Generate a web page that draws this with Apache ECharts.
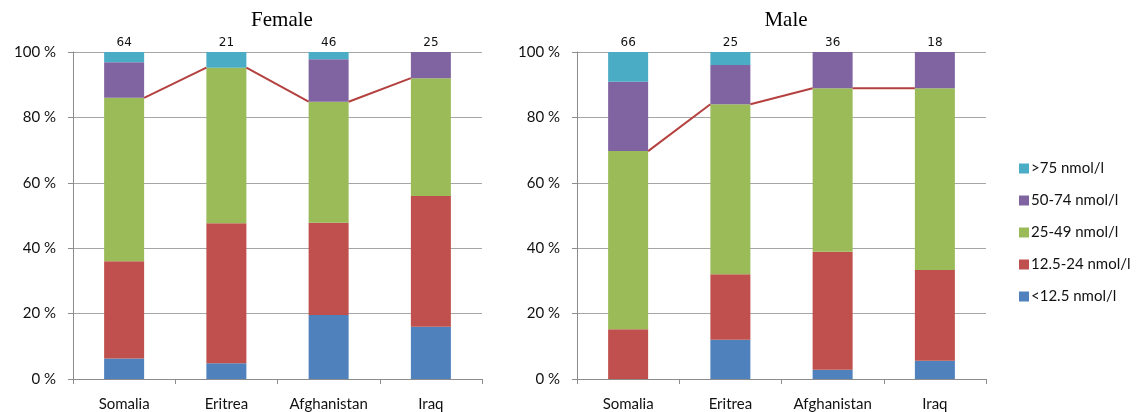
<!DOCTYPE html>
<html>
<head>
<meta charset="utf-8">
<script src="https://cdn.jsdelivr.net/npm/echarts@6/dist/echarts.min.js"></script>
<style>
  html, body { margin: 0; padding: 0; background: #fff; }
  #chart { width: 1141px; height: 412px; }
</style>
</head>
<body>
<div id="chart"></div>
<script>
// categories and sample sizes
const countries = ["Somalia", "Eritrea", "Afghanistan", "Iraq"];
const femaleN = [64, 21, 46, 25];
const maleN = [66, 25, 36, 18];

// percentages per vitamin D group
const fLt12 = [6.3, 4.8, 19.6, 16];
const f12to24 = [29.7, 42.8, 28.2, 40];
const f25to49 = [50, 47.6, 37.0, 36];
const f50to74 = [10.9, 0, 13.0, 8];
const fGt75 = [3.1, 4.8, 2.2, 0];

const mLt12 = [0, 12, 2.8, 5.6];
const m12to24 = [15.2, 20, 36.1, 27.7];
const m25to49 = [54.5, 52, 50.0, 55.6];
const m50to74 = [21.2, 12, 11.1, 11.1];
const mGt75 = [9.1, 4, 0, 0];

const groups = [">75 nmol/l", "50-74 nmol/l", "25-49 nmol/l", "12.5-24 nmol/l", "<12.5 nmol/l"];
const colors = {
  "<12.5 nmol/l": "#4F81BD",
  "12.5-24 nmol/l": "#C0504D",
  "25-49 nmol/l": "#9BBB59",
  "50-74 nmol/l": "#8064A2",
  ">75 nmol/l": "#4BACC6"
};
const lineColor = "#B4413F";
const BAR_W = 40;
const FONT = "Lato, 'Open Sans', sans-serif";

const chart = echarts.init(document.getElementById("chart"));

// stack order bottom -> top
function stackSeries(idx, arrs) {
  const names = ["<12.5 nmol/l", "12.5-24 nmol/l", "25-49 nmol/l", "50-74 nmol/l", ">75 nmol/l"];
  return names.map((n, k) => ({
    name: n,
    type: "bar",
    stack: "s" + idx,
    xAxisIndex: idx * 2,
    yAxisIndex: idx,
    barWidth: BAR_W,
    itemStyle: { color: colors[n] },
    data: arrs[k]
  }));
}

// series lines between tops of the 25-49 segments
function seriesLines(idx, a, b, c) {
  const tops = a.map((v, i) => v + b[i] + c[i]);
  const segs = [];
  for (let i = 0; i < tops.length - 1; i++) segs.push([i, tops[i], tops[i + 1]]);
  return {
    type: "custom",
    xAxisIndex: idx * 2,
    yAxisIndex: idx,
    silent: true,
    z: 5,
    encode: { x: 0, y: [1, 2] },
    data: segs,
    renderItem: function (params, api) {
      const x = api.value(0);
      const p0 = api.coord([x, api.value(1)]);
      const p1 = api.coord([x + 1, api.value(2)]);
      return {
        type: "line",
        shape: { x1: p0[0] + BAR_W / 2, y1: p0[1], x2: p1[0] - BAR_W / 2, y2: p1[1] },
        style: { stroke: lineColor, lineWidth: 2 }
      };
    }
  };
}

const grids = [
  { left: 73, top: 52, width: 409, height: 327 },
  { left: 577, top: 52, width: 409, height: 327 }
];

function xAxes(idx, counts) {
  return [
    {
      type: "category", gridIndex: idx, data: countries,
      axisLine: { lineStyle: { color: "#8C8C8C" } },
      axisTick: { show: true, length: 5, lineStyle: { color: "#8C8C8C" } },
      axisLabel: { color: "#111", fontSize: 15, fontFamily: FONT, margin: 18 }
    },
    {
      type: "category", gridIndex: idx, position: "top", data: counts,
      axisLine: { show: false }, axisTick: { show: false },
      axisLabel: { color: "#111", fontSize: 12, fontFamily: "'DejaVu Sans', sans-serif", margin: 3 }
    }
  ];
}

function yAxis(idx) {
  return {
    type: "value", gridIndex: idx, min: 0, max: 100, interval: 20,
    axisLine: { show: true, lineStyle: { color: "#8C8C8C" } },
    axisTick: { show: true, length: 5, lineStyle: { color: "#8C8C8C" } },
    axisLabel: { color: "#111", fontSize: 15, fontFamily: FONT, margin: 17, formatter: "{value} %" },
    splitLine: { lineStyle: { color: "#A6A6A6" } }
  };
}

chart.setOption({
  animation: false,
  title: [
    { text: "Female", left: 277, top: 5, textAlign: "center",
      textStyle: { fontFamily: "'Liberation Serif', 'DejaVu Serif', serif", fontWeight: "normal", fontSize: 21, color: "#000" } },
    { text: "Male", left: 781, top: 5, textAlign: "center",
      textStyle: { fontFamily: "'Liberation Serif', 'DejaVu Serif', serif", fontWeight: "normal", fontSize: 21, color: "#000" } }
  ],
  legend: {
    data: groups,
    orient: "vertical",
    left: 1014,
    top: 156,
    itemWidth: 10,
    itemHeight: 10,
    itemGap: 17,
    icon: "rect",
    textStyle: { fontFamily: FONT, fontSize: 15, color: "#111", padding: [0, 0, 0, -3] }
  },
  grid: grids,
  xAxis: [...xAxes(0, femaleN), ...xAxes(1, maleN)],
  yAxis: [yAxis(0), yAxis(1)],
  series: [
    ...stackSeries(0, [fLt12, f12to24, f25to49, f50to74, fGt75]),
    seriesLines(0, fLt12, f12to24, f25to49),
    ...stackSeries(1, [mLt12, m12to24, m25to49, m50to74, mGt75]),
    seriesLines(1, mLt12, m12to24, m25to49)
  ]
});
</script>
</body>
</html>
